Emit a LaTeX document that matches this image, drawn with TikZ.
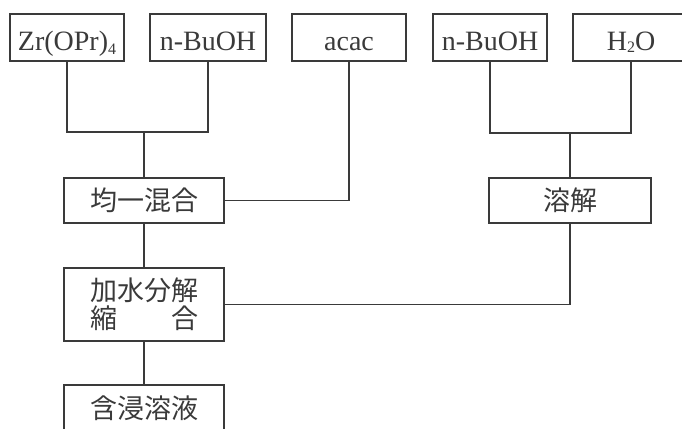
\documentclass[tikz,border=0pt]{standalone}
\usepackage{fontspec}
\setmainfont{Liberation Serif}
\newfontfamily\jfont{Noto Sans CJK JP}
\definecolor{ink}{HTML}{3A3A3A}

\begin{document}
\begin{tikzpicture}[x=1pt,y=-1pt,
  box/.style={draw=ink,line width=1.4pt,text=ink,minimum height=47pt,inner sep=0pt,
    text height=27pt,text depth=0pt,font=\fontsize{28}{30}\selectfont},
  jbox/.style={box,minimum height=45pt,text height=,text depth=,font=\jfont\fontsize{27}{28}\selectfont},
  wire/.style={draw=ink,line width=1.4pt}]
\useasboundingbox (0,0) rectangle (682,428);
\node[box,minimum width=114pt] (zr) at (67,37.5) {Zr(OPr)\raisebox{-0.25ex}{\fontsize{16}{16}\selectfont 4}};
\node[box,minimum width=116pt] (bu1) at (208,37.5) {n-BuOH};
\node[box,minimum width=114pt] (acac) at (349,37.5) {acac};
\node[box,minimum width=114pt] (bu2) at (490,37.5) {n-BuOH};
\node[box,minimum width=116pt] (hho) at (631,37.5) {H\raisebox{-0.1ex}{\fontsize{16}{16}\selectfont 2}O};
\node[jbox,minimum width=160pt] (mix) at (144,200.5) {均一混合};
\node[jbox,minimum width=162pt] (sol) at (570,200.5) {溶解};
\node[jbox,minimum width=160pt,minimum height=73pt,align=center] (hyd) at (144,304.5) {加水分解\\縮\hspace{2em}合};
\node[jbox,minimum width=160pt,minimum height=47pt] (imp) at (144,408.5) {含浸溶液};
\coordinate (j1) at (144,132);
\coordinate (j2) at (570,133);
\draw[wire] (zr.south) |- (j1) -| (bu1.south);
\draw[wire] (j1) -- (mix.north);
\draw[wire] (acac.south) |- (mix.east);
\draw[wire] (bu2.south) |- (j2) -| (hho.south);
\draw[wire] (j2) -- (sol.north);
\draw[wire] (mix) -- (hyd);
\draw[wire] (sol.south) |- (hyd.east);
\draw[wire] (hyd) -- (imp);
\end{tikzpicture}
\end{document}
